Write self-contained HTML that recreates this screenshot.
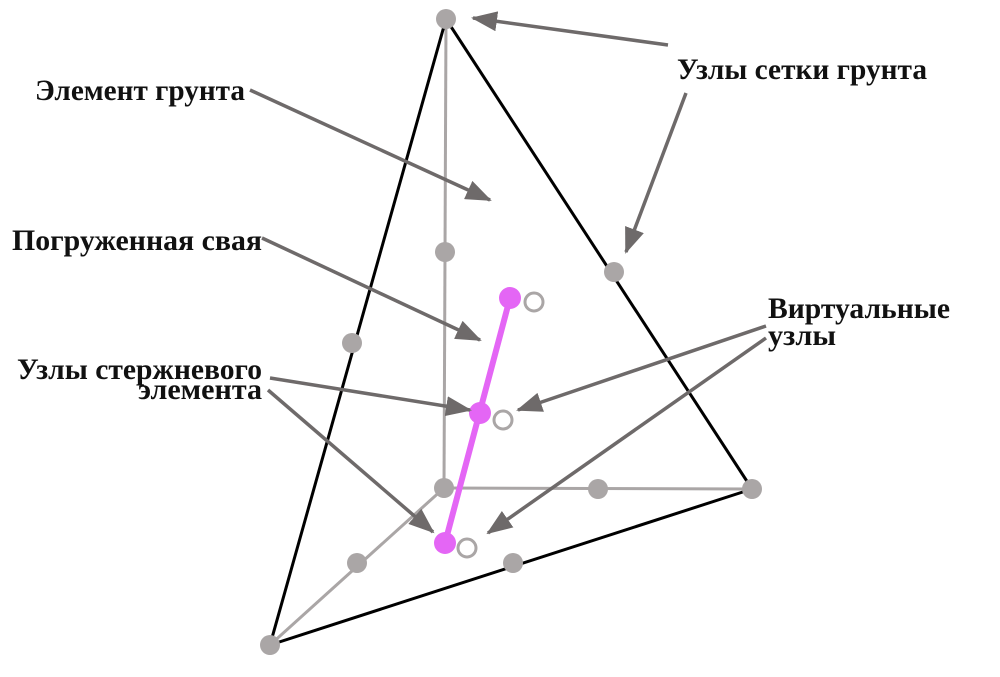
<!DOCTYPE html>
<html><head><meta charset="utf-8"><style>
html,body{margin:0;padding:0;background:#fff;}
</style></head><body>
<svg width="1000" height="672" viewBox="0 0 1000 672" xmlns="http://www.w3.org/2000/svg">
<defs>
<marker id="ah" viewBox="0 0 26 20" refX="24" refY="10" markerWidth="26" markerHeight="20" markerUnits="userSpaceOnUse" orient="auto">
<path d="M0,0 L26,10 L0,20 z" fill="#6e6a6a"/>
</marker>
</defs>
<g stroke="#aaa6a6" stroke-width="3" fill="none">
<line x1="446" y1="19" x2="444" y2="488"/>
<line x1="444" y1="488" x2="752" y2="489"/>
<line x1="444" y1="488" x2="270" y2="645"/>
</g>
<g stroke="#000" stroke-width="3" fill="none">
<line x1="446" y1="19" x2="270" y2="645"/>
<line x1="446" y1="19" x2="752" y2="489"/>
<line x1="270" y1="645" x2="752" y2="489"/>
</g>
<g fill="#aaa6a6">
<circle cx="446" cy="19" r="10"/>
<circle cx="270" cy="645" r="10"/>
<circle cx="752" cy="489" r="10"/>
<circle cx="444" cy="488" r="10"/>
<circle cx="445" cy="252" r="10"/>
<circle cx="598" cy="489" r="10"/>
<circle cx="357" cy="563" r="10"/>
<circle cx="352" cy="343" r="10"/>
<circle cx="614" cy="272" r="10"/>
<circle cx="513" cy="563" r="10"/>
</g>
<line x1="510" y1="298" x2="445" y2="543" stroke="#e466f5" stroke-width="6"/>
<g fill="#e466f5">
<circle cx="510" cy="298" r="11"/>
<circle cx="480" cy="413" r="11"/>
<circle cx="445" cy="543" r="11"/>
</g>
<g fill="#fff" stroke="#aaa6a6" stroke-width="3">
<circle cx="534" cy="302" r="9"/>
<circle cx="503" cy="420" r="9"/>
<circle cx="467" cy="548" r="9"/>
</g>
<g stroke="#6e6a6a" stroke-width="3.5" fill="none" marker-end="url(#ah)">
<line x1="668" y1="45" x2="473" y2="18"/>
<line x1="686" y1="93" x2="626" y2="252"/>
<line x1="250" y1="90" x2="490" y2="200"/>
<line x1="262" y1="238" x2="480" y2="340"/>
<line x1="270" y1="378" x2="470" y2="410"/>
<line x1="268" y1="390" x2="433" y2="532"/>
<line x1="766" y1="326" x2="518" y2="410"/>
<line x1="766" y1="338" x2="488" y2="533"/>
</g>
<g font-family="'Liberation Serif','DejaVu Serif',serif" font-weight="bold" font-size="30" fill="#111">
<text x="35" y="100" textLength="210" lengthAdjust="spacingAndGlyphs">Элемент грунта</text>
<text x="677" y="79" textLength="250" lengthAdjust="spacingAndGlyphs">Узлы сетки грунта</text>
<text x="12" y="250" textLength="250" lengthAdjust="spacingAndGlyphs">Погруженная свая</text>
<text x="17" y="379" textLength="245" lengthAdjust="spacingAndGlyphs">Узлы стержневого</text>
<text x="138" y="399" textLength="124" lengthAdjust="spacingAndGlyphs">элемента</text>
<text x="768" y="318" textLength="182" lengthAdjust="spacingAndGlyphs">Виртуальные</text>
<text x="768" y="345" textLength="68" lengthAdjust="spacingAndGlyphs">узлы</text>
</g>
</svg>
</body></html>
